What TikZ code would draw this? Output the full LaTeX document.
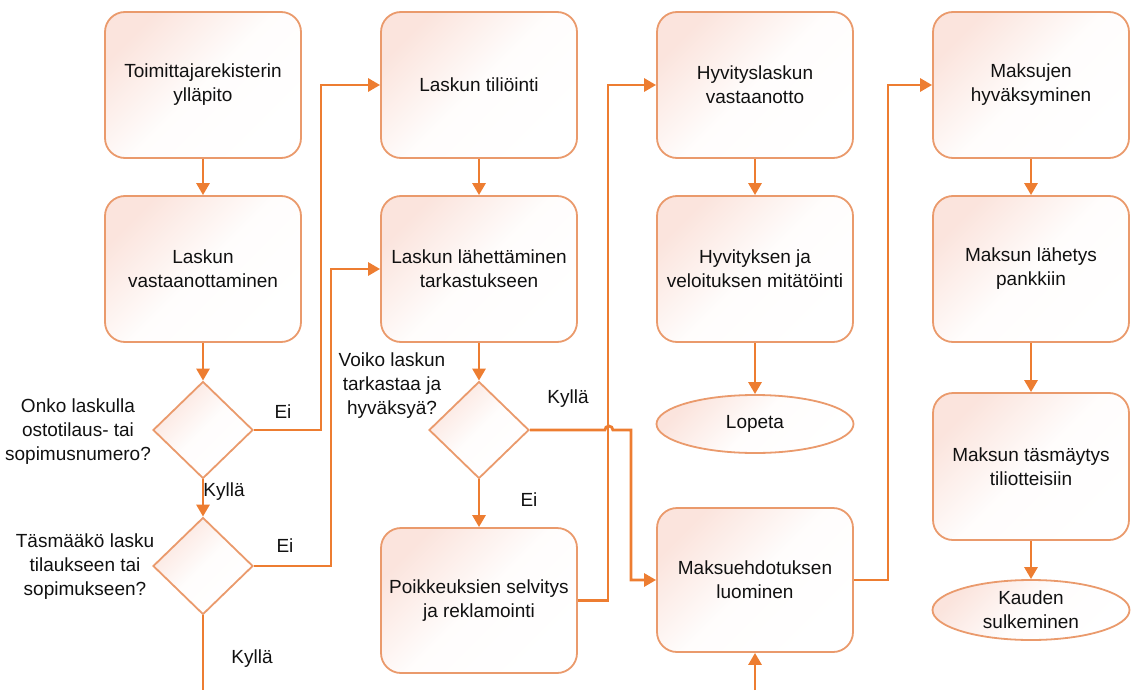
\documentclass[tikz,border=0pt]{standalone}
\usepackage{fontspec}
\setmainfont{Liberation Sans}
\usetikzlibrary{shapes.geometric,arrows.meta,calc}
\definecolor{flow}{HTML}{ED7D31}
\definecolor{edge}{HTML}{EA9A6C}
\definecolor{tint}{HTML}{FBE4DD}
\definecolor{ink}{HTML}{111111}
\tikzset{
  shapebase/.style={draw=edge, line width=1.8pt, shading=axis, top color=tint, bottom color=white,
    middle color=white!92!tint, shading angle=45, text=ink, align=center, inner sep=0pt,
    font=\fontsize{19}{24}\selectfont},
  stepbox/.style={shapebase, rectangle, rounded corners=20pt, minimum width=196pt, minimum height=146pt},
  choice/.style={shapebase, diamond, minimum width=100pt, minimum height=97pt},
  terminal/.style={shapebase, ellipse, minimum width=197pt, minimum height=58pt},
  flowline/.style={draw=flow, line width=2.8pt},
  flowarrow/.style={flowline, -{Triangle[width=13pt,length=12pt]}},
  lbl/.style={text=ink, font=\fontsize{19}{24}\selectfont, align=center, inner sep=0pt}
}
\begin{document}
\begin{tikzpicture}[x=1pt, y=-1pt]
\useasboundingbox (0,0) rectangle (1131,690);

% column 1
\node[stepbox] (b1) at (203,85) {Toimittajarekisterin\\ylläpito};
\node[stepbox] (b2) at (203,269) {Laskun\\vastaanottaminen};
\node[choice] (d1) at (203,430) {};
\node[choice] (d2) at (203,566) {};
\node[lbl] (q1) at (78,432) {Onko laskulla\\ostotilaus- tai\\sopimusnumero?};
\node[lbl] (q2) at (85,567) {Täsmääkö lasku\\tilaukseen tai\\sopimukseen?};

% column 2
\node[stepbox] (t1) at (479,85) {Laskun tiliöinti};
\node[stepbox] (t2) at (479,269) {Laskun lähettäminen\\tarkastukseen};
\node[choice] (d3) at (479,430) {};
\node[stepbox, minimum height=145pt] (p) at (479,600.5) {Poikkeuksien selvitys\\ja reklamointi};
\node[lbl] (q3) at (392,386) {Voiko laskun\\tarkastaa ja\\hyväksyä?};

% column 3
\node[stepbox] (h1) at (755,85) {Hyvityslaskun\\vastaanotto};
\node[stepbox] (h2) at (755,269) {Hyvityksen ja\\veloituksen mitätöinti};
\node[terminal] (lop) at (755,424) {Lopeta};
\node[stepbox, minimum height=144pt] (m) at (755,580) {Maksuehdotuksen\\luominen};

% column 4
\node[stepbox] (k1) at (1031,85) {Maksujen\\hyväksyminen};
\node[stepbox] (k2) at (1031,269) {Maksun lähetys\\pankkiin};
\node[stepbox, minimum height=147pt] (k3) at (1031,466.5) {Maksun täsmäytys\\tiliotteisiin};
\node[terminal, minimum height=60pt] (kau) at (1031,610) {Kauden\\sulkeminen};

% free ends at the lower edge
\coordinate (outd2) at (203,690);
\coordinate (inm) at (755,690);

% connectors
\draw[flowarrow] (b1) -- (b2);
\draw[flowarrow] (b2) -- (d1);
\draw[flowarrow] (d1.east) -- ++(67,0) |- (t1.west);
\draw[flowarrow] (d1) -- (d2);
\draw[flowarrow] (d2.east) -- ++(77,0) |- (t2.west);
\draw[flowline] (d2.south) -- (outd2);

\draw[flowarrow] (t1) -- (t2);
\draw[flowarrow] (t2) -- (d3);
\draw[flowarrow] (d3) -- (p);
\draw[flowarrow] (d3.east) -- ++(75,0) arc[start angle=180, end angle=360, radius=4] -- ++(18,0) |- (m.west);
\draw[flowarrow] (p.east) -- ++(30,0) |- (h1.west);

\draw[flowarrow] (h1) -- (h2);
\draw[flowarrow] (h2) -- (lop);
\draw[flowarrow] (inm) -- (m.south);
\draw[flowarrow] (m.east) -- ++(34,0) |- (k1.west);

\draw[flowarrow] (k1) -- (k2);
\draw[flowarrow] (k2) -- (k3);
\draw[flowarrow] (k3) -- (kau);

% branch labels
\node[lbl] (e1) at (283,412) {Ei};
\node[lbl] (y1) at (224,492) {Kyllä};
\node[lbl] (e2) at (285,546) {Ei};
\node[lbl] (y2) at (252,659) {Kyllä};
\node[lbl] (y3) at (568,399) {Kyllä};
\node[lbl] (e3) at (529,500) {Ei};
\end{tikzpicture}
\end{document}
